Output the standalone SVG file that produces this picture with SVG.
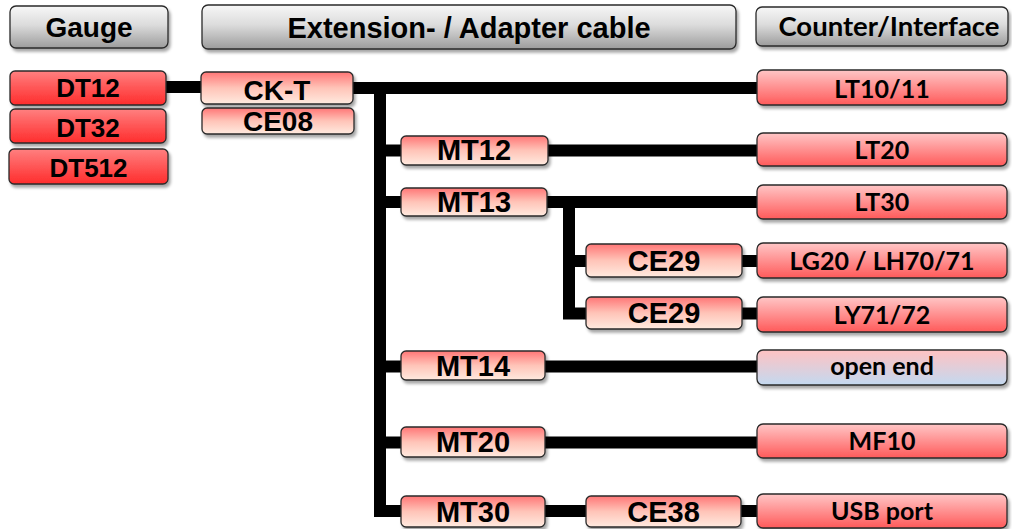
<svg xmlns="http://www.w3.org/2000/svg" width="1012" height="529" viewBox="0 0 1012 529">
<defs>
<linearGradient id="gHdr" x1="0" y1="0" x2="0" y2="1"><stop offset="0" stop-color="#f7f7f7"/><stop offset="0.45" stop-color="#dcdcdc"/><stop offset="1" stop-color="#9c9c9c"/></linearGradient>
<linearGradient id="gRed" x1="0" y1="0" x2="0" y2="1"><stop offset="0" stop-color="#ff8080"/><stop offset="1" stop-color="#ff2c2c"/></linearGradient>
<linearGradient id="gLt" x1="0" y1="0" x2="0" y2="1"><stop offset="0" stop-color="#ffc6c6"/><stop offset="1" stop-color="#ff5a5a"/></linearGradient>
<linearGradient id="gMt" x1="0" y1="0" x2="0" y2="1"><stop offset="0" stop-color="#ff7676"/><stop offset="0.5" stop-color="#ffc4b8"/><stop offset="1" stop-color="#ffeadf"/></linearGradient>
<linearGradient id="gOpen" x1="0" y1="0" x2="0" y2="1"><stop offset="0" stop-color="#ffc2c2"/><stop offset="1" stop-color="#c3d9f0"/></linearGradient>
<filter id="sh" x="-10%" y="-20%" width="125%" height="160%"><feDropShadow dx="2" dy="3" stdDeviation="1.8" flood-color="#000" flood-opacity="0.35"/></filter>
</defs>
<style>
.box{stroke:#2a2a2a;stroke-width:1.3;filter:url(#sh)}
.hdr{fill:url(#gHdr)}
.red{fill:url(#gRed)}
.lt{fill:url(#gLt)}
.mt{fill:url(#gMt)}
.open{fill:url(#gOpen)}
.ta{font-family:"Liberation Sans",Arial,sans-serif;font-weight:bold;text-anchor:middle;fill:#000}
.tc{font-family:Lato,"Open Sans",sans-serif;font-weight:bold;text-anchor:middle;fill:#000;font-size:25px}
.conn{stroke:#000;fill:none;stroke-width:12;stroke-linejoin:miter;stroke-linecap:butt}
</style>
<rect width="1012" height="529" fill="#fff"/>
<g id="connectors">
<path class="conn" d="M166 87 H202" stroke-width="14"/>
<path class="conn" d="M353 88 H757"/>
<path class="conn" d="M380 88 V511 H401"/>
<path class="conn" d="M380 150.5 H401"/>
<path class="conn" d="M548 150.5 H757"/>
<path class="conn" d="M380 202 H401"/>
<path class="conn" d="M547 202 H757"/>
<path class="conn" d="M569 202 V313.5 H586"/>
<path class="conn" d="M569 261 H586"/>
<path class="conn" d="M742 261 H757"/>
<path class="conn" d="M742 313.5 H757"/>
<path class="conn" d="M380 366.5 H401"/>
<path class="conn" d="M545 366.5 H757"/>
<path class="conn" d="M380 442.5 H401"/>
<path class="conn" d="M545 442.5 H757"/>
<path class="conn" d="M545 511 H586"/>
<path class="conn" d="M741 511 H757"/>
</g>
<g id="hdr-gauge"><rect class="box hdr" x="10" y="6" width="158" height="42" rx="6"/><text class="ta" x="89" y="37" font-size="28">Gauge</text></g>
<g id="hdr-ext"><rect class="box hdr" x="202" y="5" width="534" height="44" rx="6"/><text class="ta" x="469" y="38" font-size="29">Extension- / Adapter cable</text></g>
<g id="hdr-counter"><rect class="box hdr" x="756" y="7" width="252" height="39" rx="6"/><text class="tc" x="889" y="36" style="font-size:27.5px">Counter/Interface</text></g>
<g id="n-dt12"><rect class="box red" x="10" y="71" width="156" height="34" rx="5"/><text class="ta" x="88" y="97" font-size="26">DT12</text></g>
<g id="n-dt32"><rect class="box red" x="10" y="109" width="156" height="34" rx="5"/><text class="ta" x="88" y="136.5" font-size="26">DT32</text></g>
<g id="n-dt512"><rect class="box red" x="9" y="149" width="159" height="35" rx="5"/><text class="ta" x="88.5" y="176.5" font-size="26">DT512</text></g>
<g id="n-ckt"><rect class="box mt" x="201" y="72" width="152" height="32" rx="5"/><text class="ta" x="277" y="99.5" font-size="28">CK-T</text></g>
<g id="n-ce08"><rect class="box mt" x="202" y="108" width="152" height="26" rx="5"/><text class="ta" x="278" y="131" font-size="28">CE08</text></g>
<g id="n-mt12"><rect class="box mt" x="401" y="136" width="147" height="29" rx="5"/><text class="ta" x="474" y="160" font-size="29">MT12</text></g>
<g id="n-mt13"><rect class="box mt" x="401" y="188" width="146" height="28" rx="5"/><text class="ta" x="474" y="212" font-size="29">MT13</text></g>
<g id="n-ce29a"><rect class="box mt" x="586" y="244" width="156" height="33" rx="5"/><text class="ta" x="664" y="270.5" font-size="29">CE29</text></g>
<g id="n-ce29b"><rect class="box mt" x="586" y="297" width="156" height="32" rx="5"/><text class="ta" x="664" y="323" font-size="29">CE29</text></g>
<g id="n-mt14"><rect class="box mt" x="401" y="351" width="144" height="29" rx="5"/><text class="ta" x="473" y="375.5" font-size="29">MT14</text></g>
<g id="n-mt20"><rect class="box mt" x="401" y="427" width="144" height="30" rx="5"/><text class="ta" x="473" y="452" font-size="29">MT20</text></g>
<g id="n-mt30"><rect class="box mt" x="401" y="496" width="144" height="31" rx="5"/><text class="ta" x="473" y="521.5" font-size="29">MT30</text></g>
<g id="n-ce38"><rect class="box mt" x="586" y="496" width="155" height="31" rx="5"/><text class="ta" x="663.5" y="521.5" font-size="29">CE38</text></g>
<g id="n-lt1011"><rect class="box lt" x="757" y="70" width="250" height="35" rx="6"/><text class="tc" x="882" y="97.5">LT10/11</text></g>
<g id="n-lt20"><rect class="box lt" x="757" y="133" width="250" height="33" rx="6"/><text class="tc" x="882" y="159">LT20</text></g>
<g id="n-lt30"><rect class="box lt" x="757" y="185" width="250" height="34" rx="6"/><text class="tc" x="882" y="211">LT30</text></g>
<g id="n-lg20"><rect class="box lt" x="757" y="243" width="250" height="35" rx="6"/><text class="tc" x="882" y="270">LG20 / LH70/71</text></g>
<g id="n-ly71"><rect class="box lt" x="757" y="297" width="250" height="35" rx="6"/><text class="tc" x="882" y="324">LY71/72</text></g>
<g id="n-open"><rect class="box open" x="757" y="350" width="250" height="35" rx="6"/><text class="tc" x="882" y="375">open end</text></g>
<g id="n-mf10"><rect class="box lt" x="757" y="424" width="250" height="34" rx="6"/><text class="tc" x="882" y="450">MF10</text></g>
<g id="n-usb"><rect class="box lt" x="757" y="494" width="250" height="34" rx="6"/><text class="tc" x="882" y="520">USB port</text></g>
</svg>
